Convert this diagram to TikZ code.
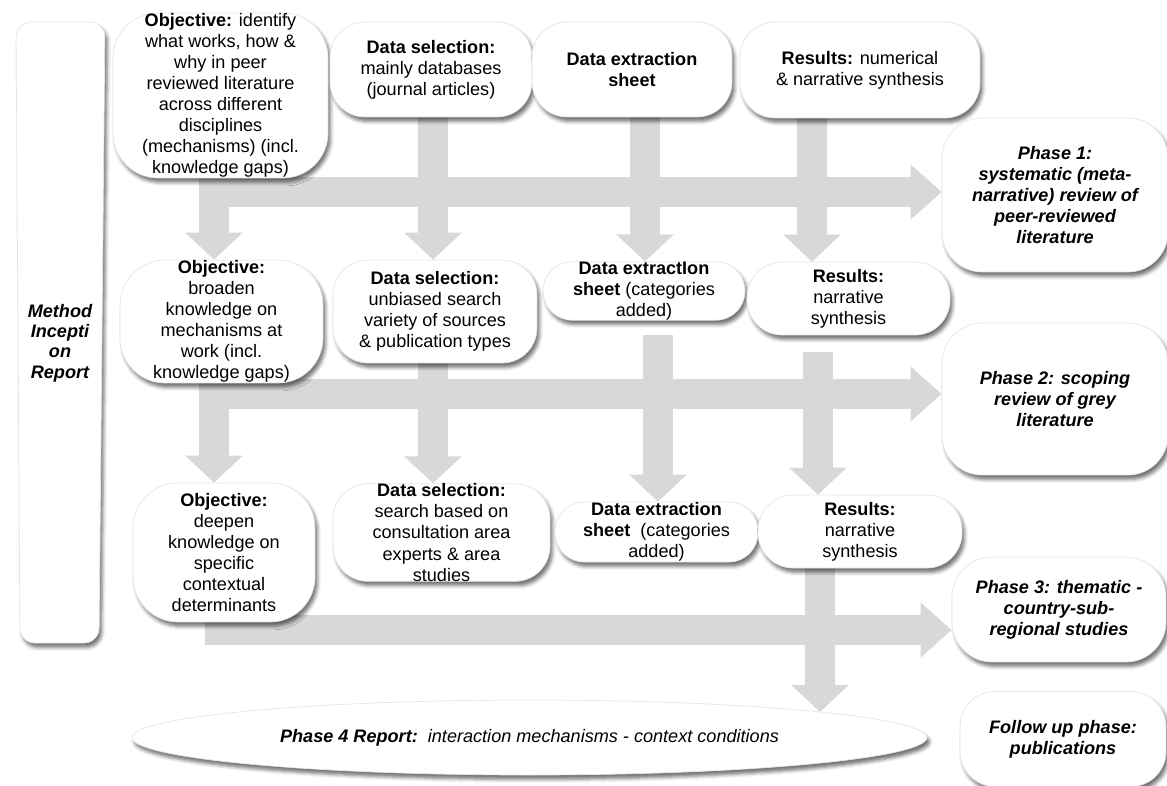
\documentclass[tikz,border=0pt]{standalone}
\usepackage{fontspec}
\setmainfont{Liberation Sans}
\usetikzlibrary{shapes.geometric,shadows.blur,arrows.meta}
\pgfdeclarelayer{background}
\pgfsetlayers{background,main}
\definecolor{flowgray}{RGB}{216,216,216}

\begin{document}
\begin{tikzpicture}[x=0.02cm, y=-0.02cm,
    font=\fontsize{10.3}{12}\selectfont,
    card/.style={draw=black!10, line width=0.4pt, fill=white, align=center, inner sep=0pt,
        blur shadow={shadow xshift=1.5pt, shadow yshift=-2.5pt, shadow blur radius=2pt, shadow opacity=55}},
    objbox/.style={card, rounded corners=0.9cm},
    stepbox/.style={card, rounded corners=0.7cm},
    pillbox/.style={card, rounded corners=0.58cm},
    phasebox/.style={card, rounded corners=0.8cm, font=\fontsize{10.3}{12}\selectfont\bfseries\itshape},
    flowdown/.style={draw=flowgray, line width=0.6cm, -{Triangle[length=0.54cm, width=1.12cm]}},
    flowright/.style={draw=flowgray, line width=0.6cm, -{Triangle[length=0.62cm, width=1.06cm]}}]

    \useasboundingbox (0,0) rectangle (1167,785);

    % Method inception report
    \draw[card, rounded corners=0.3cm] (16,22) -- (105,22) -- (99,643) -- (20,643) -- cycle;
    \node[align=center, font=\fontsize{10.3}{11.6}\selectfont\bfseries\itshape] (method) at (60,343)
        {Method\\Incepti\\on\\Report};

    %% Phase 1 row
    \node[objbox, minimum width=4.3cm, minimum height=3.3cm] (obj1) at (220.5,95.5)
        {\textbf{Objective:} identify\\what works, how \&\\why in peer\\reviewed literature\\across different\\disciplines\\(mechanisms) (incl.\\knowledge gaps)};
    \node[stepbox, minimum width=4.04cm, minimum height=1.9cm] (ds1) at (431,69.5)
        {\textbf{Data selection:}\\mainly databases\\(journal articles)};
    \node[stepbox, minimum width=4.0cm, minimum height=1.9cm] (de1) at (632,69.5)
        {\textbf{Data extraction}\\\textbf{sheet}};
    \node[stepbox, minimum width=4.8cm, minimum height=1.92cm] (r1) at (860,70)
        {\textbf{Results:} numerical\\\& narrative synthesis};
    \node[phasebox, minimum width=4.52cm, minimum height=3.08cm] (ph1) at (1055,195)
        {Phase 1:\\systematic (meta-\\narrative) review of\\peer-reviewed\\literature};

    %% Phase 2 row
    \node[objbox, minimum width=4.06cm, minimum height=2.46cm] (obj2) at (221.5,321.5)
        {\textbf{Objective:}\\broaden\\knowledge on\\mechanisms at\\work (incl.\\knowledge gaps)};
    \node[stepbox, minimum width=4.08cm, minimum height=2.06cm] (ds2) at (435,311.5)
        {\textbf{Data selection:}\\unbiased search\\variety of sources\\\& publication types};
    \node[pillbox, minimum width=4.04cm, minimum height=1.16cm] (de2) at (644,291)
        {\textbf{Data extractIon}\\\textbf{sheet} (categories\\added)};
    \node[pillbox, rounded corners=0.7cm, minimum width=4.06cm, minimum height=1.46cm] (r2) at (848.5,298.5)
        {\textbf{Results:}\\narrative\\synthesis};
    \node[phasebox, minimum width=4.52cm, minimum height=3.04cm] (ph2) at (1055,399)
        {Phase 2: scoping\\review of grey\\literature};

    %% Phase 3 row
    \node[objbox, minimum width=3.64cm, minimum height=2.78cm] (obj3) at (224,552.5)
        {\textbf{Objective:}\\deepen\\knowledge on\\specific\\contextual\\determinants};
    \node[stepbox, minimum width=4.34cm, minimum height=1.9cm] (ds3) at (441.5,532.5)
        {\textbf{Data selection:}\\search based on\\consultation area\\experts \& area\\studies};
    \node[pillbox, minimum width=4.06cm, minimum height=1.2cm] (de3) at (656.5,532)
        {\textbf{Data extraction}\\\textbf{sheet}\ \ (categories\\added)};
    \node[pillbox, rounded corners=0.7cm, minimum width=4.08cm, minimum height=1.46cm] (r3) at (860,531.5)
        {\textbf{Results:}\\narrative\\synthesis};
    \node[phasebox, minimum width=4.28cm, minimum height=2.1cm] (ph3) at (1059,609.5)
        {Phase 3: thematic -\\country-sub-\\regional studies};

    %% Report and follow up
    \node[card, ellipse, minimum width=15.9cm, minimum height=1.5cm, font=\fontsize{10.3}{12}\selectfont\itshape] (ph4) at (529.5,737.5)
        {\textbf{Phase 4 Report:}\ \ interaction mechanisms - context conditions};
    \node[phasebox, rounded corners=0.7cm, minimum width=4.12cm, minimum height=1.9cm] (fup) at (1063,739)
        {Follow up phase:\\publications};

    % Flow arrows
    \coordinate (h1) at (199,192);
    \coordinate (h2) at (199,394);
    \coordinate (h3) at (205,630);
    \coordinate (ca) at (214,0);
    \coordinate (cb) at (433,0);
    \coordinate (cc) at (645,0);
    \coordinate (cd) at (812,0);
    \coordinate (de2out) at (658,335);
    \coordinate (r2out) at (818,352);
    \coordinate (cf) at (820,0);
    \coordinate (ph4in) at (820,712);

    \begin{pgfonlayer}{background}
        \draw[flowright] (h1) -- (h1 -| ph1.west);
        \draw[flowdown] (obj1.south -| ca) -- (obj2.north -| ca);
        \draw[flowdown] (ds1.south -| cb) -- (ds2.north -| cb);
        \draw[flowdown] (de1.south -| cc) -- (de2.north -| cc);
        \draw[flowdown] (r1.south -| cd) -- (r2.north -| cd);

        \draw[flowright] (h2) -- (h2 -| ph2.west);
        \draw[flowdown] (obj2.south -| ca) -- (obj3.north -| ca);
        \draw[flowdown] (ds2.south -| cb) -- (ds3.north -| cb);
        \draw[flowdown] (de2out) -- (de3.north -| de2out);
        \draw[flowdown] (r2out) -- (r3.north -| r2out);

        \draw[flowright] (h3) -- (h3 -| ph3.west);
        \draw[flowdown] (r3.south -| cf) -- (ph4in);
    \end{pgfonlayer}

\end{tikzpicture}
\end{document}
